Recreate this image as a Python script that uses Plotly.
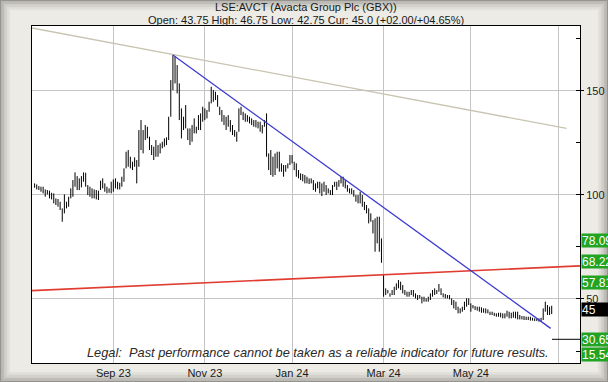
import plotly.graph_objects as go
import pandas as pd

# ---------------- data ----------------
title_text = "LSE:AVCT (Avacta Group Plc (GBX))"
subtitle_text = "Open: 43.75 High: 46.75 Low: 42.75 Cur: 45.0 (+02.00/+04.65%)"
legal_text = "Legal:  Past performance cannot be taken as a reliable indicator for future results."

first_date = "2023-07-11"
uk_holidays = ["2023-08-28", "2023-12-25", "2023-12-26", "2024-01-01",
               "2024-03-29", "2024-04-01", "2024-05-06", "2024-05-27"]

# daily highs / lows (GBX), Jul-Aug, Sep-Oct, Nov-Dec, Jan-Feb, Mar-Apr, May-Jun
high = [
    105.5, 105.0, 104.2, 103.9, 103.9, 102.6, 102.3, 102.0, 101.0, 100.7, 98.3, 98.0, 96.7, 93.5, 100.2,
    96.7, 99.1, 103.1, 107.1, 110.8, 109.0, 107.9, 109.0, 110.8, 110.6, 104.7, 103.9, 103.1, 102.6, 102.3,
    102.0, 106.8, 107.9, 105.5, 103.9, 103.1, 106.3,
    107.4, 107.9, 106.3, 105.8, 108.7, 112.7, 120.7, 121.5, 118.3, 115.9, 118.0, 116.7, 131.1, 135.9,
    131.1, 133.5, 132.7, 127.9, 123.9, 123.1, 126.3, 123.9, 124.7, 125.5, 127.1, 127.6, 137.5, 155.1,
    167.1, 166.3, 162.3, 153.5, 141.5, 137.5, 143.1, 131.9, 131.9, 133.5, 136.7, 132.7, 138.3, 139.1, 142.3,
    141.5, 140.7, 144.7, 151.9, 150.3, 149.5, 147.9, 142.3, 140.7, 138.3, 137.5, 138.3, 135.9, 133.5,
    131.1, 130.3, 141.5, 142.3, 139.9, 139.1, 138.3, 137.5, 136.7, 135.9, 135.9, 135.1, 135.1, 133.5,
    135.9, 139.1, 119.9, 121.5, 118.3, 119.9, 120.7, 120.7, 115.1, 114.3, 114.3, 115.1, 119.1,
    119.1, 115.9, 115.1, 111.9, 110.3, 110.0, 109.5, 108.7, 107.9, 107.9, 107.1, 105.5, 106.3, 106.3,
    105.5, 106.3, 104.7, 103.1, 102.3, 104.7, 106.3, 106.3, 107.1, 108.7, 108.7, 107.1, 104.7, 103.1,
    103.1, 102.3, 99.9, 99.9, 101.5, 99.9, 96.7, 95.1, 93.5, 91.1, 87.9, 88.7, 89.5, 89.5, 79.1,
    61.5, 55.1, 54.3, 52.7, 54.3, 55.9, 57.5, 59.1, 58.3, 56.7, 54.3, 53.5, 53.5, 54.3, 54.3, 52.7,
    51.9, 51.9, 51.1, 51.1, 50.3, 51.1, 52.7, 54.3, 55.1, 54.3, 57.2, 55.1, 52.7, 52.4, 51.9, 51.9,
    50.3, 49.5, 48.7, 46.3, 45.5, 46.3, 48.7, 50.3, 50.3,
    47.9, 47.1, 46.6, 46.3, 46.3, 46.0, 45.5, 45.5, 45.0, 43.9, 43.9, 43.4, 43.1, 43.4, 43.4, 43.1,
    43.1, 44.4, 43.9, 43.4, 43.9, 43.9, 43.9, 42.3, 41.8, 41.8, 41.5, 41.5, 41.5, 41.0, 40.7, 40.4,
    40.7, 41.0, 45.5, 48.7, 47.1, 46.3, 46.75,
]
low = [
    103.4, 102.6, 102.3, 101.5, 100.7, 99.1, 100.2, 98.3, 97.8, 95.9, 95.1, 94.3, 92.7, 87.1, 91.1,
    93.5, 94.3, 98.3, 99.1, 103.9, 102.3, 102.3, 103.6, 106.3, 103.9, 99.9, 99.1, 98.3, 98.3, 97.8,
    97.5, 102.3, 103.1, 101.5, 100.7, 101.0, 100.7,
    101.5, 103.1, 102.6, 102.6, 103.9, 106.3, 112.7, 113.5, 112.7, 111.9, 113.5, 105.5, 113.5, 121.5,
    119.9, 126.3, 127.1, 121.5, 119.1, 116.7, 118.3, 118.3, 119.9, 122.3, 123.1, 123.9, 126.3, 137.5,
    150.3, 153.5, 148.7, 135.9, 127.1, 131.1, 131.9, 126.3, 123.9, 125.5, 129.5, 129.5, 131.1, 131.1, 135.1,
    135.9, 136.7, 139.9, 143.9, 144.7, 145.5, 142.3, 138.3, 135.1, 133.5, 131.1, 132.7, 130.3, 128.7,
    127.9, 125.5, 130.3, 138.3, 135.9, 135.1, 135.1, 134.3, 133.5, 132.7, 132.4, 131.9, 130.3, 129.5,
    132.7, 118.3, 111.9, 109.5, 108.7, 109.5, 112.7, 111.1, 111.1, 108.7, 111.1, 112.7, 114.3,
    115.1, 111.9, 108.7, 107.9, 107.1, 106.5, 105.5, 105.5, 105.2, 105.5, 102.3, 101.5, 103.1, 100.7,
    99.4, 101.5, 99.9, 100.7, 99.9, 99.9, 103.9, 102.3, 103.9, 105.5, 103.9, 103.1, 101.5, 100.7,
    100.4, 99.1, 96.7, 95.9, 95.9, 94.3, 92.7, 91.1, 86.3, 87.1, 81.5, 72.7, 76.7, 72.7, 67.4,
    51.1, 51.9, 52.7, 51.1, 51.9, 51.9, 54.3, 55.1, 54.3, 52.7, 51.9, 51.1, 51.1, 51.9, 51.1, 50.3,
    49.5, 50.3, 47.9, 48.7, 48.7, 48.7, 49.5, 51.1, 51.9, 52.4, 53.5, 51.9, 50.8, 50.3, 50.3, 49.8,
    47.1, 45.5, 44.7, 43.1, 43.1, 43.9, 44.7, 46.3, 47.1,
    43.9, 45.5, 44.7, 44.4, 43.9, 43.4, 43.4, 43.1, 43.1, 42.3, 42.3, 41.8, 41.5, 41.5, 41.2, 40.7,
    40.7, 41.5, 40.7, 40.7, 41.0, 40.7, 40.2, 40.2, 40.2, 39.9, 39.9, 39.9, 39.6, 39.6, 39.4, 39.4,
    39.1, 39.1, 39.9, 43.9, 42.3, 42.3, 42.75,
]

# trend lines: (bar index, price) end points
grey_trend_x = [-1.2, 250.0]
grey_trend_y = [180.1, 131.9]
blue_trend_x = [65, 242.5]
blue_trend_y = [167.1, 35.9]
red_trend_x = [-1.2, 256.3]
red_trend_y = [54.0, 65.9]

target_levels = [78.09, 68.22, 57.81, 30.65, 15.54]
marked_level = 30.65
current_price = 45

y_range = [19.27, 181.06]
x_range = [-1.22, 256.3]

# ---------------- figure ----------------
n = len(high)
idx = list(range(n))
axis_dates = pd.bdate_range(first_date, periods=int(x_range[1]) + 2, freq="C", holidays=uk_holidays)
tickvals, ticktext = [], []
for i in range(1, len(axis_dates)):
    d = axis_dates[i]
    if d.month != axis_dates[i - 1].month and d.month % 2 == 1:
        tickvals.append(i)
        ticktext.append(d.strftime("%b %y") if i < n else "")

W, H = 608, 382
ML, MR, MT, MB = 32, 28, 26, 19
ph = H - MT - MB
pw = W - ML - MR


def py(ypx):
    return (H - MB - ypx) / ph


def px(xpx):
    return (xpx - ML) / pw


# vertical high-low bars as line segments
seg_x, seg_y = [], []
for i, h, l in zip(idx, high, low):
    seg_x += [i, i, None]
    seg_y += [l, h, None]

fig = go.Figure()
fig.add_trace(go.Scatter(x=seg_x, y=seg_y, mode="lines",
                         line=dict(color="#000000", width=1.0),
                         hoverinfo="skip", showlegend=False))
fig.add_trace(go.Scatter(x=grey_trend_x, y=grey_trend_y, mode="lines",
                         line=dict(color="#c9c4b2", width=1.3), showlegend=False))
fig.add_trace(go.Scatter(x=red_trend_x, y=red_trend_y, mode="lines",
                         line=dict(color="#e03c30", width=1.6), showlegend=False))
fig.add_trace(go.Scatter(x=blue_trend_x, y=blue_trend_y, mode="lines",
                         line=dict(color="#3a3ad0", width=1.3), showlegend=False))

font_main = "Liberation Sans, Arial, sans-serif"
ann = []
ann.append(dict(text=title_text, x=0.5, y=py(7), xref="paper", yref="paper",
                showarrow=False, font=dict(family=font_main, size=11, color="#1a1a1a"),
                yanchor="middle"))
ann.append(dict(text=subtitle_text, x=0.5, y=py(20), xref="paper", yref="paper",
                showarrow=False, font=dict(family=font_main, size=11, color="#1a1a1a"),
                yanchor="middle"))
ann.append(dict(text="<i>" + legal_text + "</i>", x=px(318), y=py(352), xref="paper", yref="paper",
                showarrow=False, font=dict(family=font_main, size=12.8, color="#2a2a2a"),
                yanchor="middle"))

for v in target_levels:
    a = dict(text=f"{v:.2f}", x=1, xref="paper", xanchor="left", xshift=1,
             showarrow=False, bgcolor="#22a322", font=dict(family=font_main, size=12, color="#ffffff"),
             borderpad=0, align="left", width=34, height=13)
    if v < y_range[0]:
        a.update(y=0, yref="paper", yanchor="bottom", yshift=1)
    else:
        a.update(y=v, yref="y", yanchor="middle")
    ann.append(a)
ann.append(dict(text=f"{current_price}", x=1, xref="paper", xanchor="left", xshift=1,
                y=current_price, yref="y", yanchor="middle", showarrow=False,
                bgcolor="#000000", font=dict(family=font_main, size=12, color="#ffffff"),
                borderpad=0, align="left", width=34, height=13))

# bevelled frame: bands of colour from the outer edge inwards
shapes = []
edge_rgb = (150, 148, 142)
inner_rgb = (236, 234, 228)
nb = 8
for k in range(nb):
    t = k / (nb - 1)
    c = tuple(int(edge_rgb[j] + (inner_rgb[j] - edge_rgb[j]) * t ** 0.6) for j in range(3))
    inset = 0.5 + k * 1.5
    shapes.append(dict(type="rect", xref="paper", yref="paper",
                       x0=px(inset), x1=px(W - inset), y0=py(H - inset), y1=py(inset),
                       line=dict(color="rgb(%d,%d,%d)" % c, width=1.6), layer="below"))
# short level marker at the right edge
shapes.append(dict(type="line", xref="paper", yref="y", x0=px(552), x1=1,
                   y0=marked_level, y1=marked_level, line=dict(color="#000000", width=1),
                   layer="above"))

fig.update_layout(
    width=W, height=H,
    margin=dict(l=ML, r=MR, t=MT, b=MB, pad=0, autoexpand=False),
    paper_bgcolor="#ecebe6", plot_bgcolor="#ffffff",
    showlegend=False,
    annotations=ann, shapes=shapes,
    xaxis=dict(range=x_range, tickvals=tickvals, ticktext=ticktext, automargin=False,
               showgrid=True, gridcolor="#c4c4c4", gridwidth=1,
               showline=True, linecolor="#000000", linewidth=1, mirror=True,
               ticks="", tickfont=dict(family=font_main, size=11, color="#1a1a1a"),
               zeroline=False, fixedrange=True),
    yaxis=dict(range=y_range, side="right", tick0=0, dtick=50, automargin=False,
               showgrid=True, gridcolor="#c4c4c4", gridwidth=1,
               showline=True, linecolor="#000000", linewidth=1, mirror=True,
               ticks="outside", ticklen=3, tickcolor="#000000",
               minor=dict(dtick=25, ticks="inside", ticklen=4, tickcolor="#000000", showgrid=False),
               tickfont=dict(family=font_main, size=11, color="#1a1a1a"),
               zeroline=False, fixedrange=True),
)

fig.write_html("out.html", config={"displayModeBar": False},
               post_script="document.body.style.margin='0';document.body.style.overflow='hidden';")
